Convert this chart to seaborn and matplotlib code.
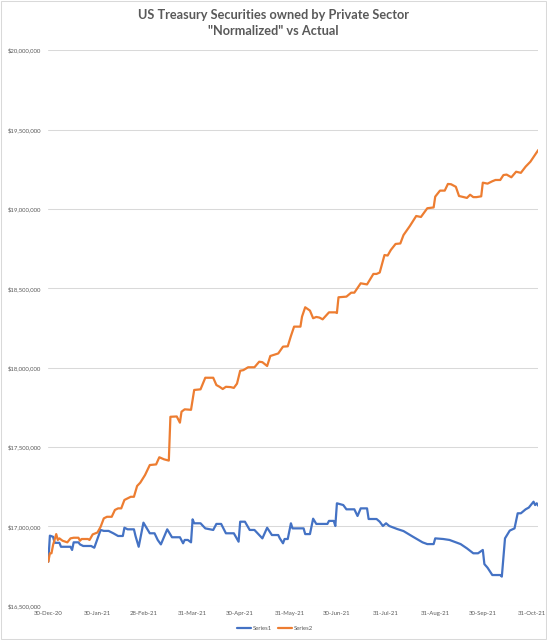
import pandas as pd
import matplotlib
matplotlib.use("Agg")
import matplotlib.pyplot as plt
import matplotlib.dates as mdates
from matplotlib.ticker import FuncFormatter
from matplotlib.patches import Rectangle
import seaborn as sns

start_date = "2020-12-30"

# Series1 (actual) - days after start_date and value in $
series1_days = [0, 1, 3, 4, 7, 8, 14, 15, 16, 19, 20, 22, 27, 29, 33, 35, 38, 41, 44, 47,
                48, 50, 54, 55, 57, 60, 64, 67, 69, 71, 75, 78, 83, 85, 86, 88, 90, 91, 92, 96,
                99, 104, 106, 109, 112, 117, 120, 121, 124, 127, 130, 135, 138, 141, 145, 146, 148, 149, 151, 153,
                154, 161, 162, 165, 167, 169, 176, 177, 180, 181, 182, 186, 188, 193, 195, 197, 201, 202, 207, 209,
                211, 213, 215, 220, 224, 230, 236, 239, 243, 244, 249, 253, 260, 264, 268, 271, 274, 275, 277, 280,
                285, 286, 288, 291, 294, 296, 298, 301, 303, 306, 307, 308, 309]
series1_vals = [16778, 16942, 16935, 16897, 16897, 16872, 16872, 16852, 16900, 16900, 16887, 16877, 16877, 16866, 16978, 16972, 16972, 16957, 16940, 16940,
                16992, 16982, 16982, 16940, 16872, 17024, 16957, 16957, 16915, 16887, 16982, 16932, 16932, 16894, 16915, 16915, 16900, 17045, 17020, 17020,
                16988, 16978, 17016, 17016, 16957, 16957, 16904, 17030, 17030, 16978, 16978, 16925, 16992, 16946, 16946, 16925, 16894, 16921, 16921, 17020,
                16988, 16988, 16952, 16952, 17049, 17016, 17016, 17035, 17035, 17003, 17146, 17135, 17108, 17108, 17066, 17114, 17114, 17047, 17047, 17030,
                17003, 17020, 17003, 16984, 16971, 16935, 16900, 16889, 16889, 16925, 16921, 16915, 16889, 16862, 16831, 16831, 16852, 16763, 16740, 16694,
                16694, 16684, 16925, 16974, 16988, 17083, 17083, 17108, 17119, 17156, 17135, 17146, 17130]

# Series2 ("normalized")
series2_days = [0, 1, 2, 3, 5, 6, 7, 9, 12, 14, 16, 19, 20, 21, 25, 26, 28, 31, 33, 35,
                37, 40, 42, 44, 46, 48, 52, 54, 56, 58, 61, 64, 68, 70, 73, 76, 77, 81, 83, 84,
                86, 90, 92, 96, 99, 104, 106, 108, 110, 112, 115, 117, 119, 121, 123, 126, 130, 133, 135, 138,
                140, 145, 148, 151, 153, 155, 159, 160, 162, 165, 167, 169, 171, 173, 177, 181, 182, 183, 188, 191,
                193, 197, 201, 205, 207, 209, 212, 214, 216, 219, 222, 224, 228, 232, 235, 239, 243, 244, 247, 250,
                252, 254, 257, 259, 262, 264, 266, 268, 270, 273, 274, 277, 280, 282, 285, 287, 289, 292, 295, 298,
                301, 304, 309]
series2_vals = [16778, 16831, 16831, 16883, 16952, 16915, 16925, 16910, 16900, 16925, 16929, 16929, 16910, 16921, 16921, 16915, 16950, 16962, 16998, 17051,
                17061, 17061, 17104, 17114, 17114, 17167, 17187, 17187, 17255, 17276, 17324, 17387, 17391, 17436, 17423, 17415, 17691, 17693, 17654, 17723,
                17738, 17735, 17860, 17864, 17937, 17937, 17891, 17880, 17866, 17880, 17878, 17873, 17900, 17981, 17985, 18003, 18003, 18038, 18035, 18011,
                18074, 18090, 18133, 18135, 18200, 18259, 18259, 18322, 18381, 18360, 18312, 18320, 18316, 18305, 18349, 18349, 18345, 18444, 18448, 18473,
                18473, 18532, 18525, 18591, 18591, 18600, 18710, 18707, 18742, 18780, 18783, 18836, 18893, 18956, 18950, 19005, 19010, 19078, 19116, 19116,
                19158, 19156, 19140, 19082, 19075, 19070, 19090, 19075, 19075, 19080, 19166, 19160, 19175, 19183, 19183, 19214, 19217, 19200, 19235, 19228,
                19267, 19298, 19372]

tick_dates = ["2020-12-30", "2021-01-30", "2021-02-28", "2021-03-31", "2021-04-30", "2021-05-31",
              "2021-06-30", "2021-07-31", "2021-08-31", "2021-09-30", "2021-10-31"]
y_ticks = [16500000, 17000000, 17500000, 18000000, 18500000, 19000000, 19500000, 20000000]

base = pd.Timestamp(start_date)
df1 = pd.DataFrame({"date": base + pd.to_timedelta(series1_days, unit="D"),
                    "value": [v * 1000 for v in series1_vals], "series": "Series1"})
df2 = pd.DataFrame({"date": base + pd.to_timedelta(series2_days, unit="D"),
                    "value": [v * 1000 for v in series2_vals], "series": "Series2"})
df = pd.concat([df1, df2], ignore_index=True)

sns.set_theme(style="white")
plt.rcParams["font.family"] = ["Lato", "DejaVu Sans"]

grey = "#595959"
fig = plt.figure(figsize=(5.47, 6.40), dpi=100)
ax = fig.add_axes([0.0883, 0.0534, 0.8958, 0.868])

sns.lineplot(data=df, x="date", y="value", hue="series",
             palette={"Series1": "#4472C4", "Series2": "#ED7D31"},
             linewidth=1.6, ax=ax, legend=False)

ax.set_ylim(y_ticks[0], y_ticks[-1])
ax.set_xlim(df["date"].min(), df["date"].max())
ax.set_yticks(y_ticks)
ax.yaxis.set_major_formatter(FuncFormatter(lambda v, p: "${:,.0f}".format(v)))
ax.set_xticks(pd.to_datetime(tick_dates))
ax.xaxis.set_major_formatter(mdates.DateFormatter("%d-%b-%y"))
ax.grid(axis="y", color="#D9D9D9", linewidth=0.75)
ax.grid(axis="x", visible=False)
for s in ax.spines.values():
    s.set_visible(False)
ax.tick_params(axis="y", labelsize=4.3, colors=grey, length=0, pad=5)
ax.tick_params(axis="x", labelsize=4.3, colors=grey, length=0, pad=4)
ax.set_xlabel("")
ax.set_ylabel("")

fig.suptitle('US Treasury Securities owned by Private Sector\n"Normalized" vs Actual',
             y=0.986, fontsize=9.2, fontweight="bold", color=grey, linespacing=1.42)

handles = [plt.Line2D([], [], color="#4472C4", linewidth=1.6),
           plt.Line2D([], [], color="#ED7D31", linewidth=1.6)]
fig.legend(handles, ["Series1", "Series2"], loc="center", bbox_to_anchor=(0.503, 0.018),
           ncol=2, frameon=False, fontsize=4.3, handlelength=2.4, handletextpad=0.3,
           columnspacing=1.0, labelcolor=grey)

fig.patches.append(Rectangle((0.002, 0.002), 0.996, 0.996, transform=fig.transFigure,
                             fill=False, edgecolor="#D9D9D9", linewidth=0.75))

fig.savefig("out.png", dpi=100)
